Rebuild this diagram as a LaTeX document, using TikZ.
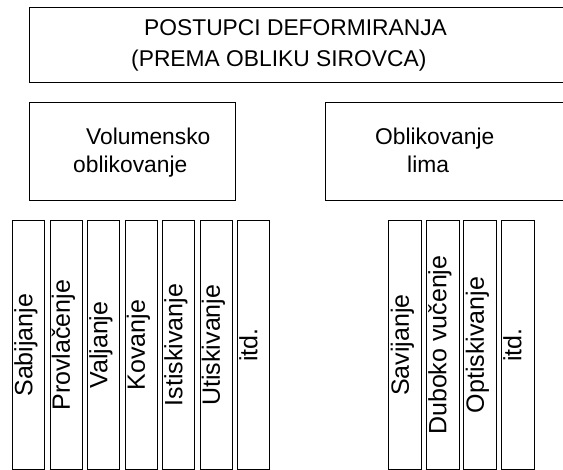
\documentclass[tikz,border=0pt]{standalone}
\usepackage{fontspec}
\setmainfont{Liberation Sans}
\tikzset{
  box/.style={draw, line width=1.3pt, rectangle, anchor=north west, inner sep=0pt},
  txt/.style={anchor=base west, inner sep=0pt, font=\fontsize{22.8}{30}\selectfont},
  vtxt/.style={rotate=90, anchor=center, inner sep=0pt, text height=0.72em, text depth=0pt,
    font=\fontsize{25}{29}\selectfont}
}
\begin{document}
\begin{tikzpicture}[x=1pt,y=-1pt]
      \useasboundingbox (0,0) rectangle (563,470);
      \clip (0,0) rectangle (563,470);
      % boxes
      \node[box, minimum width=600pt, minimum height=75pt] (top) at (29,7) {};
      \node[box, minimum width=206pt, minimum height=98pt] (vol) at (29,102) {};
      \node[box, minimum width=300pt, minimum height=98pt] (lim) at (325,102) {};
      % texts
      \node[txt] (t1) at (144,35.5) {POSTUPCI DEFORMIRANJA};
      \node[txt] (t2) at (131,66.5) {(PREMA OBLIKU SIROVCA)};
      \node[txt] (v1) at (86,145) {Volumensko};
      \node[txt] (v2) at (73,173) {oblikovanje};
      \node[txt] (l1) at (375,145) {Oblikovanje};
      \node[txt] (l2) at (407,173) {lima};
      % postupci
      \foreach \name [count=\i from 0] in {Sabijanje,Provlačenje,Valjanje,Kovanje,Istiskivanje,Utiskivanje,itd.}
      {
        \node[box, minimum width=32pt, minimum height=249pt] (a\i) at (12+37.5*\i,220) {};
        \node[vtxt] (ta\i) at (a\i.center) {\name};
      }
      \foreach \name [count=\i from 0] in {Savijanje,Duboko vučenje,Optiskivanje,itd.}
      {
        \node[box, minimum width=33pt, minimum height=249pt] (b\i) at (388+37.5*\i,220) {};
        \node[vtxt] (tb\i) at (b\i.center) {\name};
      }
    \end{tikzpicture}
\end{document}
